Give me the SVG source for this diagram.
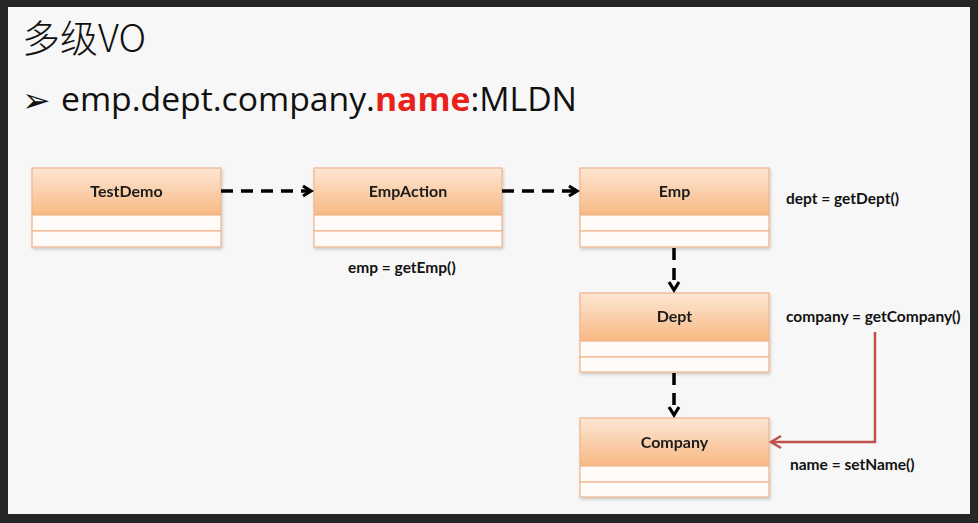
<svg xmlns="http://www.w3.org/2000/svg" width="978" height="523" viewBox="0 0 978 523">
<defs>
<linearGradient id="hdr" x1="0" y1="0" x2="0" y2="1">
<stop offset="0" stop-color="#fde6d4"/>
<stop offset="1" stop-color="#f8b983"/>
</linearGradient>
<filter id="sh" x="-5%" y="-5%" width="115%" height="120%">
<feDropShadow dx="1" dy="2" stdDeviation="1.5" flood-color="#000" flood-opacity="0.18"/>
</filter>
<marker id="open" markerWidth="14" markerHeight="14" refX="11" refY="7" orient="auto" markerUnits="userSpaceOnUse">
<path d="M3,2 L11,7 L3,12" fill="none" stroke="#000" stroke-width="3.2"/>
</marker>
<marker id="red" markerWidth="16" markerHeight="16" refX="13" refY="8" orient="auto" markerUnits="userSpaceOnUse">
<path d="M3,2 L13,8 L3,14" fill="none" stroke="#c0504d" stroke-width="2.5"/>
</marker>
</defs>
<style>
.box rect{stroke:#f0b48a;stroke-width:1.2}
.hd{fill:url(#hdr)}
.cp{fill:#fefbf8}
.lbl{font-family:Lato,"Liberation Sans",sans-serif;font-weight:bold;font-size:16px;fill:#1a1a1a;text-anchor:middle}
.note{font-family:Lato,"Liberation Sans",sans-serif;font-weight:bold;font-size:15.5px;fill:#111}
.dash{stroke:#000;stroke-width:3.5;stroke-dasharray:12,8;fill:none}
</style>
<rect width="978" height="523" fill="#252628"/>
<rect x="8" y="7" width="962" height="507" fill="#f7f7f7"/>
<text x="22" y="52" font-family="'Noto Sans CJK SC',sans-serif" font-weight="300" font-size="38" fill="#111">多级VO</text>
<text x="22" y="112" font-family="'DejaVu Sans',sans-serif" font-size="34" fill="#111">➢</text>
<text x="61" y="111" font-family="'Open Sans','Noto Sans',sans-serif" font-size="33" fill="#111" textLength="516" lengthAdjust="spacingAndGlyphs">emp.dept.company.<tspan fill="#e8221a" font-weight="bold">name</tspan>:MLDN</text>

<g id="TestDemo" class="box" filter="url(#sh)">
<rect class="hd" x="32" y="168" width="189" height="47"/>
<rect class="cp" x="32" y="215" width="189" height="16"/>
<rect class="cp" x="32" y="231" width="189" height="16"/>
<text class="lbl" x="126.5" y="197">TestDemo</text>
</g>
<g id="EmpAction" class="box" filter="url(#sh)">
<rect class="hd" x="314" y="168" width="188" height="47"/>
<rect class="cp" x="314" y="215" width="188" height="16"/>
<rect class="cp" x="314" y="231" width="188" height="16"/>
<text class="lbl" x="408" y="197">EmpAction</text>
</g>
<g id="Emp" class="box" filter="url(#sh)">
<rect class="hd" x="580" y="168" width="189" height="47"/>
<rect class="cp" x="580" y="215" width="189" height="16"/>
<rect class="cp" x="580" y="231" width="189" height="16"/>
<text class="lbl" x="674.5" y="197">Emp</text>
</g>
<g id="Dept" class="box" filter="url(#sh)">
<rect class="hd" x="580" y="293" width="189" height="48"/>
<rect class="cp" x="580" y="341" width="189" height="16"/>
<rect class="cp" x="580" y="357" width="189" height="15"/>
<text class="lbl" x="674.5" y="322">Dept</text>
</g>
<g id="Company" class="box" filter="url(#sh)">
<rect class="hd" x="580" y="418" width="189" height="48"/>
<rect class="cp" x="580" y="466" width="189" height="16"/>
<rect class="cp" x="580" y="482" width="189" height="15"/>
<text class="lbl" x="674.5" y="448">Company</text>
</g>

<g id="connectors">
<path class="dash" d="M221,191 H311" marker-end="url(#open)"/>
<path class="dash" d="M502,191 H577" marker-end="url(#open)"/>
<path class="dash" d="M674,248 V290" marker-end="url(#open)"/>
<path class="dash" d="M674,373 V415" marker-end="url(#open)"/>
<path d="M875,332 V442 H771" fill="none" stroke="#c0504d" stroke-width="2.5" marker-end="url(#red)"/>
</g>

<g id="notes">
<text class="note" x="348" y="273">emp = getEmp()</text>
<text class="note" x="786" y="204">dept = getDept()</text>
<text class="note" x="786" y="322">company = getCompany()</text>
<text class="note" x="790" y="470">name = setName()</text>
</g>
</svg>
